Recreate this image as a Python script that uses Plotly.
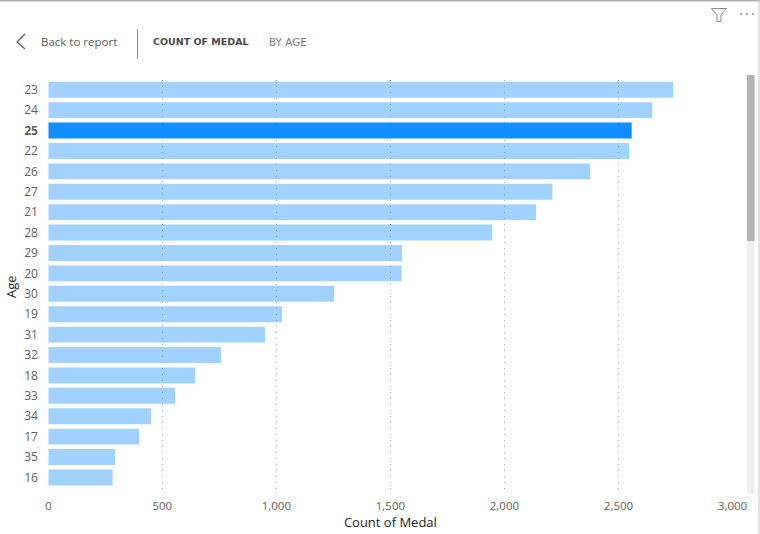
import plotly.graph_objects as go

ages = ["23","24","25","22","26","27","21","28","29","20","30","19","31","32","18","33","34","17","35","16"]
medals = [2740,2648,2558,2547,2376,2210,2139,1946,1551,1549,1253,1025,950,757,643,556,451,398,293,282]
highlight = "25"
x_ticks = [0,500,1000,1500,2000,2500,3000]
x_labels = ["0","500","1,000","1,500","2,000","2,500","3,000"]

W, H = 760, 534
BLUE = "#118DFF"
px = lambda v: v / W
py = lambda v: 1 - v / H

fig = go.Figure(go.Bar(
    x=medals, y=ages, orientation="h", width=0.78,
    marker=dict(color=BLUE,
                opacity=[1 if a == highlight else 0.4 for a in ages],
                line=dict(color="rgba(255,255,255,0)", width=0)),
    hovertemplate="Age %{y}: %{x:,}<extra></extra>",
))

ticktext = [f"<b>{a}</b>" if a == highlight else a for a in ages]
fig.update_layout(
    width=W, height=H, margin=dict(l=0, r=0, t=0, b=0), autosize=False,
    paper_bgcolor="white", plot_bgcolor="white", showlegend=False,
    font=dict(family="Open Sans, Noto Sans, sans-serif", size=12, color="#605E5C"),
    xaxis=dict(domain=[px(48.3), px(732.5)], range=[0, 3000], tickvals=x_ticks, ticktext=x_labels,
               automargin=False,
               showgrid=True, gridcolor="#A8A8A8", griddash="1px,5px", gridwidth=1, zeroline=False,
               showline=False, ticks="outside", ticklen=1, tickcolor="rgba(0,0,0,0)",
               tickfont=dict(size=11.5, color="#605E5C"),
               title=dict(text="Count of Medal", font=dict(size=13, color="#252423"), standoff=4)),
    yaxis=dict(domain=[py(494), py(79.5)], type="category", categoryorder="array", categoryarray=ages,
               automargin=False,
               range=[19.81, -0.5], tickvals=ages, ticktext=ticktext, showgrid=False, zeroline=False,
               showline=False, ticks="outside", ticklen=7, tickcolor="rgba(0,0,0,0)",
               tickfont=dict(size=12, color="#605E5C"),
               title=dict(text="Age", font=dict(size=13, color="#252423"), standoff=4)),
)

def label(x, y, text, size, color, family="Open Sans, sans-serif"):
    fig.add_annotation(xref="paper", yref="paper", x=px(x), y=py(y), text=text, showarrow=False,
                       xanchor="left", yanchor="middle", font=dict(size=size, color=color, family=family))

label(38.5, 42, "Back to report", 11.5, "#605E5C")
label(151, 41.5, "<b>COUNT OF MEDAL</b>", 9.5, "#4A4A4A", "DejaVu Sans, sans-serif")
label(267, 41.5, "BY AGE", 10.4, "#7A7A7A", "DejaVu Sans, sans-serif")

def line(x0, y0, x1, y1, color, width=1):
    fig.add_shape(type="line", xref="paper", yref="paper", x0=px(x0), y0=py(y0), x1=px(x1), y1=py(y1),
                  line=dict(color=color, width=width))

def poly(points, color, width=1, fill="rgba(0,0,0,0)"):
    p = "M " + " L ".join(f"{px(a):.5f} {py(b):.5f}" for a, b in points)
    fig.add_shape(type="path", xref="paper", yref="paper", path=p, line=dict(color=color, width=width), fillcolor=fill)

# window frame
line(0, 0.5, 760, 0.5, "#B0B0B0", 2)
line(759, 0, 759, 534, "#C8C8C8", 1)
# back chevron and divider
poly([(25, 34), (17, 42), (25, 49)], "#605E5C", 1.3)
line(137.5, 29, 137.5, 59, "#8A8A8A", 1)
# filter funnel
poly([(711.5, 8.5), (726.5, 8.5), (721, 15), (721, 21.5), (717, 21.5), (717, 15), (711.5, 8.5)], "#8A8A8A", 1)
# more dots
for dx in (741, 747, 753):
    fig.add_shape(type="circle", xref="paper", yref="paper", x0=px(dx-1), x1=px(dx+1), y0=py(15), y1=py(13),
                  fillcolor="#8A8A8A", line=dict(width=0))
# scrollbar track and thumb
fig.add_shape(type="rect", xref="paper", yref="paper", x0=px(747), x1=px(754.5), y0=py(494), y1=py(75),
              fillcolor="#EFEFEF", line=dict(width=0))
fig.add_shape(type="rect", xref="paper", yref="paper", x0=px(747), x1=px(754.5), y0=py(241), y1=py(75),
              fillcolor="#B3B3B3", line=dict(width=0))

fig.write_html("out.html", config={"displayModeBar": False}, post_script="document.body.style.margin='0';")
